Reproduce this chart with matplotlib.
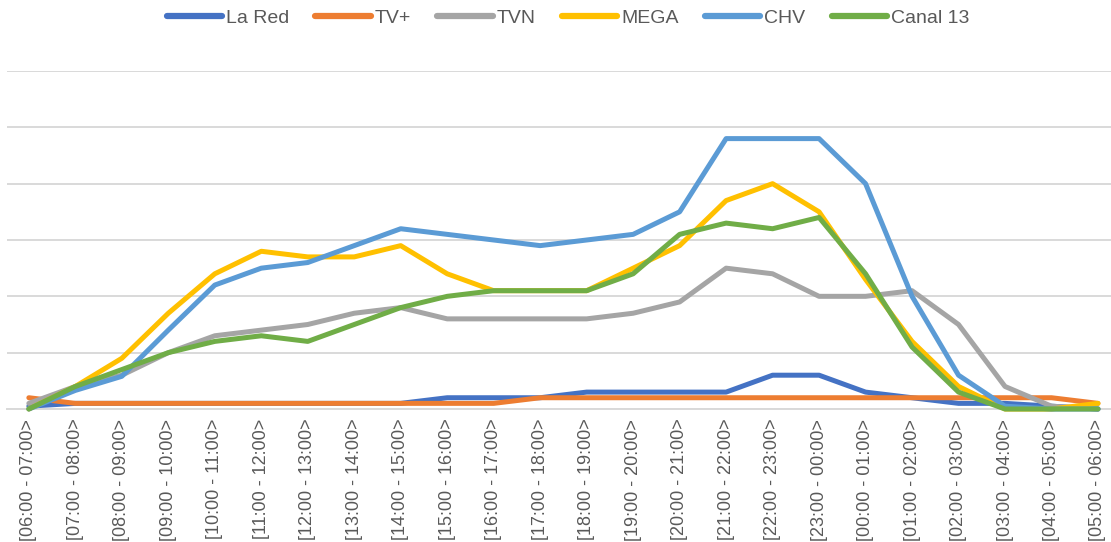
import matplotlib
matplotlib.use("Agg")
import matplotlib.pyplot as plt

categories = ["[06:00 - 07:00>", "[07:00 - 08:00>", "[08:00 - 09:00>", "[09:00 - 10:00>",
              "[10:00 - 11:00>", "[11:00 - 12:00>", "[12:00 - 13:00>", "[13:00 - 14:00>",
              "[14:00 - 15:00>", "[15:00 - 16:00>", "[16:00 - 17:00>", "[17:00 - 18:00>",
              "[18:00 - 19:00>", "[19:00 - 20:00>", "[20:00 - 21:00>", "[21:00 - 22:00>",
              "[22:00 - 23:00>", "[23:00 - 00:00>", "[00:00 - 01:00>", "[01:00 - 02:00>",
              "[02:00 - 03:00>", "[03:00 - 04:00>", "[04:00 - 05:00>", "[05:00 - 06:00>"]

la_red  = [0.05, 0.1, 0.1, 0.1, 0.1, 0.1, 0.1, 0.1, 0.1, 0.2, 0.2, 0.2,
           0.3, 0.3, 0.3, 0.3, 0.6, 0.6, 0.3, 0.2, 0.1, 0.1, 0.05, 0.0]
tv_plus = [0.2, 0.1, 0.1, 0.1, 0.1, 0.1, 0.1, 0.1, 0.1, 0.1, 0.1, 0.2,
           0.2, 0.2, 0.2, 0.2, 0.2, 0.2, 0.2, 0.2, 0.2, 0.2, 0.2, 0.1]
tvn     = [0.1, 0.4, 0.6, 1.0, 1.3, 1.4, 1.5, 1.7, 1.8, 1.6, 1.6, 1.6,
           1.6, 1.7, 1.9, 2.5, 2.4, 2.0, 2.0, 2.1, 1.5, 0.4, 0.05, 0.0]
mega    = [0.0, 0.4, 0.9, 1.7, 2.4, 2.8, 2.7, 2.7, 2.9, 2.4, 2.1, 2.1,
           2.1, 2.5, 2.9, 3.7, 4.0, 3.5, 2.3, 1.2, 0.4, 0.0, 0.0, 0.1]
chv     = [0.0, 0.33, 0.58, 1.4, 2.2, 2.5, 2.6, 2.9, 3.2, 3.1, 3.0, 2.9,
           3.0, 3.1, 3.5, 4.8, 4.8, 4.8, 4.0, 2.0, 0.6, 0.05, 0.0, 0.0]
canal13 = [0.0, 0.4, 0.7, 1.0, 1.2, 1.3, 1.2, 1.5, 1.8, 2.0, 2.1, 2.1,
           2.1, 2.4, 3.1, 3.3, 3.2, 3.4, 2.4, 1.1, 0.3, 0.0, 0.0, 0.0]

series = [("La Red", la_red, "#4472C4"), ("TV+", tv_plus, "#ED7D31"),
          ("TVN", tvn, "#A5A5A5"), ("MEGA", mega, "#FFC000"),
          ("CHV", chv, "#5B9BD5"), ("Canal 13", canal13, "#70AD47")]

plt.rcParams['font.family'] = ['Liberation Sans', 'DejaVu Sans']

W, H = 1111, 542
fig = plt.figure(figsize=(W / 100, H / 100), dpi=100)
ax = fig.add_axes([7 / W, (H - 409) / H, (W - 7) / W, (409 - 71) / H])

x = list(range(len(categories)))
for name, vals, col in series:
    ax.plot(x, vals, color=col, lw=3.6, label=name, solid_capstyle='round',
            solid_joinstyle='round', clip_on=False, zorder=3)

ax.set_xlim(-0.47, 23.28)
ax.set_ylim(0, 6)
ax.set_yticks(range(0, 7))
ax.yaxis.grid(True, color="#D9D9D9", lw=1.4)
ax.set_axisbelow(True)
ax.tick_params(axis='y', left=False, labelleft=False)
ax.set_xticks(x)
ax.set_xticklabels(categories, rotation=90, fontsize=13, color="#595959")
ax.tick_params(axis='x', length=0, pad=7)
for s in ["left", "right", "top"]:
    ax.spines[s].set_visible(False)
ax.spines["bottom"].set_color("#D9D9D9")
ax.spines["bottom"].set_linewidth(1.4)

leg = fig.legend(loc="center", bbox_to_anchor=(568 / W, 1 - 18 / H), ncol=6, frameon=False,
                 fontsize=14, handlelength=2.85, handletextpad=0.2, columnspacing=1.35,
                 labelcolor="#595959")
for h in leg.get_lines():
    h.set_linewidth(4.5)

fig.savefig("out.png", dpi=100)
